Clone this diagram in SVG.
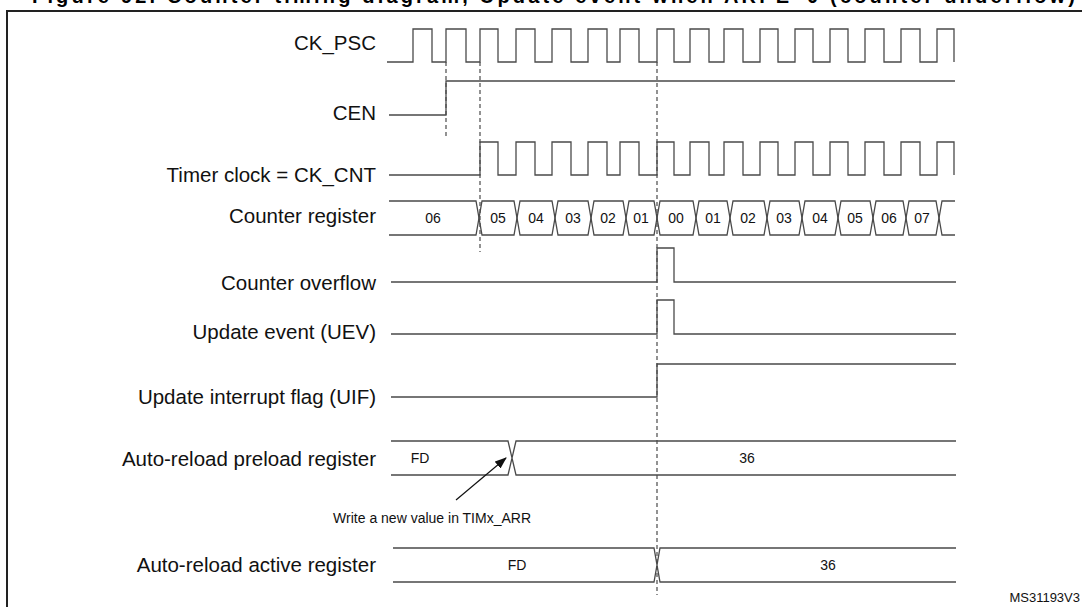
<svg xmlns="http://www.w3.org/2000/svg" width="1082" height="607" viewBox="0 0 1082 607">
<style>
.w{fill:none;stroke:#4a4a4a;stroke-width:1.3}
.d{fill:none;stroke:#4a4a4a;stroke-width:1.2;stroke-dasharray:4,3}
.l{font-family:"Liberation Sans",Arial,sans-serif;font-size:20.5px;fill:#111;text-anchor:end}
.v{font-family:"Liberation Sans",Arial,sans-serif;font-size:14px;fill:#111;text-anchor:middle}
</style>
<defs><marker id="ah" markerWidth="12" markerHeight="9" refX="11" refY="4.5" orient="auto" markerUnits="userSpaceOnUse"><path d="M0,0 L12,4.5 L0,9 z" fill="#111"/></marker></defs>
<rect width="1082" height="607" fill="#fff"/>
<text x="32" y="3" font-family="Liberation Sans,Arial,sans-serif" font-weight="bold" font-size="20" textLength="1043" fill="#000">Figure 92. Counter timing diagram, Update event when ARPE=0 (counter underflow)</text>
<path d="M7 612 V11 H1082" fill="none" stroke="#222" stroke-width="2"/>
<g id="labels">
<text class="l" x="376" y="50">CK_PSC</text>
<text class="l" x="376" y="120">CEN</text>
<text class="l" x="376" y="182">Timer clock = CK_CNT</text>
<text class="l" x="376" y="223">Counter register</text>
<text class="l" x="376" y="290">Counter overflow</text>
<text class="l" x="376" y="339">Update event (UEV)</text>
<text class="l" x="376" y="404">Update interrupt flag (UIF)</text>
<text class="l" x="376" y="466">Auto-reload preload register</text>
<text class="l" x="376" y="572">Auto-reload active register</text>
</g>
<g id="ckpsc"><path class="w" d="M387 62 H413 V29 H432 V62 H446 V29 H466 V62 H480 V29 H498 V62 H516 V29 H535 V62 H552 V29 H571 V62 H588 V29 H607 V62 H620 V29 H639 V62 H657 V29 H674 V62 H690 V29 H709 V62 H724 V29 H743 V62 H760 V29 H778 V62 H795 V29 H813 V62 H830 V29 H848 V62 H865 V29 H884 V62 H901 V29 H920 V62 H937 V29 H954 V62"/></g>
<g id="cen"><path class="w" d="M389 115 H446 V81 H955"/></g>
<g id="ckcnt"><path class="w" d="M389 175 H480 V142 H498 V175 H516 V142 H535 V175 H552 V142 H571 V175 H588 V142 H607 V175 H620 V142 H639 V175 H657 V142 H674 V175 H690 V142 H709 V175 H724 V142 H743 V175 H760 V142 H778 V175 H795 V142 H813 V175 H830 V142 H848 V175 H865 V142 H884 V175 H901 V142 H920 V175 H937 V142 H954 V175"/></g>
<g id="counter">
<path class="w" d="M389 201 H476 L482 235 H514 L520 201 H552 L558 235 H588 L594 201 H623 L629 235 H654 L660 201 H693 L699 235 H727 L733 201 H764 L770 235 H799 L805 201 H835 L841 235 H870 L876 201 H903 L909 235 H936 L942 201 H955"/>
<path class="w" d="M389 235 H476 L482 201 H514 L520 235 H552 L558 201 H588 L594 235 H623 L629 201 H654 L660 235 H693 L699 201 H727 L733 235 H764 L770 201 H799 L805 235 H835 L841 201 H870 L876 235 H903 L909 201 H936 L942 235 H955"/>
<text class="v" x="433" y="223">06</text><text class="v" x="498" y="223">05</text><text class="v" x="536" y="223">04</text><text class="v" x="573" y="223">03</text><text class="v" x="608" y="223">02</text><text class="v" x="641" y="223">01</text><text class="v" x="676" y="223">00</text><text class="v" x="713" y="223">01</text><text class="v" x="748" y="223">02</text><text class="v" x="784" y="223">03</text><text class="v" x="820" y="223">04</text><text class="v" x="855" y="223">05</text><text class="v" x="889" y="223">06</text><text class="v" x="922" y="223">07</text>
</g>
<g id="overflow"><path class="w" d="M391 282 H657 V248 H674 V282 H956"/></g>
<g id="uev"><path class="w" d="M391 334 H657 V300 H674 V334 H956"/></g>
<g id="uif"><path class="w" d="M391 397 H657 V364 H956"/></g>
<g id="preload">
<path class="w" d="M391 441 H508 L516 475 H956 M391 475 H508 L516 441 H956"/>
<text class="v" x="420" y="463">FD</text><text class="v" x="747" y="463">36</text>
</g>
<g id="active">
<path class="w" d="M393 548 H654 L660 582 H956 M393 582 H654 L660 548 H956"/>
<text class="v" x="517" y="570">FD</text><text class="v" x="828" y="570">36</text>
</g>
<g id="connectors">
<path class="d" d="M446 62 V137 M480 62 V252 M657 62 V595"/>
<line x1="456" y1="500" x2="506" y2="458" stroke="#111" stroke-width="1.2" marker-end="url(#ah)"/>
</g>
<text x="531" y="523" font-family="Liberation Sans,Arial,sans-serif" font-size="14" fill="#111" text-anchor="end">Write a new value in TIMx_ARR</text>
<text x="1080" y="602" font-family="Liberation Sans,Arial,sans-serif" font-size="13" fill="#111" text-anchor="end">MS31193V3</text>
</svg>
